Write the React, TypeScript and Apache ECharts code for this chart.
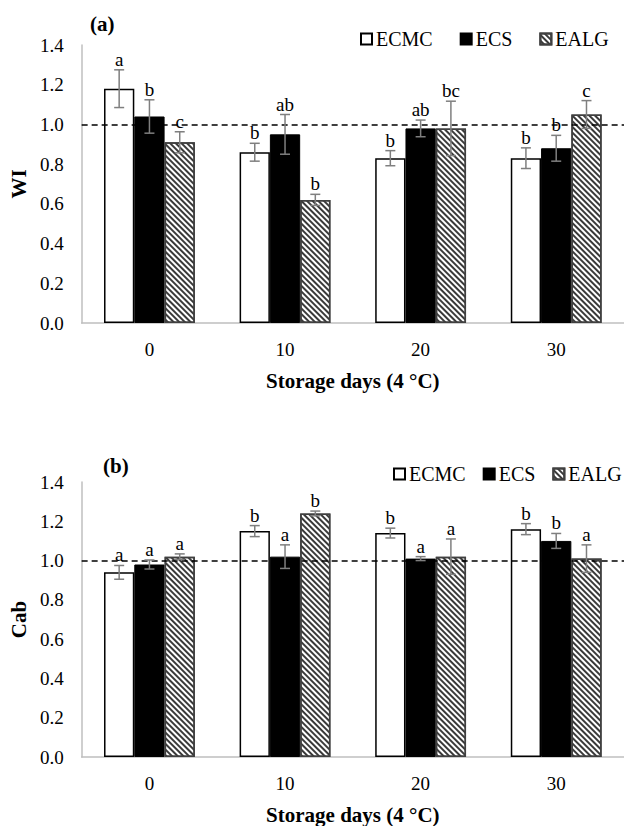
import React, { useEffect, useRef } from "react";
import * as echarts from "echarts";

const categories = ["0", "10", "20", "30"];
const seriesNames = ["ECMC", "ECS", "EALG"];

// (a) WI
const wiECMC = [1.18, 0.86, 0.83, 0.83];
const wiECS = [1.04, 0.95, 0.98, 0.88];
const wiEALG = [0.91, 0.62, 0.98, 1.05];
const wiErrECMC = [0.095, 0.045, 0.038, 0.052];
const wiErrECS = [0.084, 0.1, 0.042, 0.065];
const wiErrEALG = [0.053, 0.028, 0.137, 0.07];
const wiLetECMC = ["a", "b", "b", "b"];
const wiLetECS = ["b", "ab", "ab", "b"];
const wiLetEALG = ["c", "b", "bc", "c"];

// (b) Cab
const cabECMC = [0.94, 1.15, 1.14, 1.16];
const cabECS = [0.98, 1.02, 1.01, 1.1];
const cabEALG = [1.02, 1.24, 1.02, 1.01];
const cabErrECMC = [0.035, 0.028, 0.025, 0.028];
const cabErrECS = [0.023, 0.06, 0.01, 0.038];
const cabErrEALG = [0.014, 0.012, 0.09, 0.07];
const cabLetECMC = ["a", "b", "b", "b"];
const cabLetECS = ["a", "a", "a", "b"];
const cabLetEALG = ["a", "b", "a", "a"];

const yTicks = { min: 0, max: 1.4, interval: 0.2 };
const refLine = 1.0;

const FONT = "Liberation Serif";
const GAP = 0.33;

const hatch = {
  symbol: "rect",
  symbolSize: 1,
  color: "#3a3a3a",
  dashArrayX: [1, 0],
  dashArrayY: [2, 2],
  rotation: Math.PI / 4,
};

function barStyles() {
  return [
    { color: "#ffffff", borderColor: "#000000", borderWidth: 1.5 },
    { color: "#000000", borderColor: "#000000", borderWidth: 1 },
    { color: "#ffffff", borderColor: "#404040", borderWidth: 1.5, decal: hatch },
  ];
}

function buildPanel(
  idx: number,
  values: number[][],
  errs: number[][],
  letters: string[][]
) {
  const styles = barStyles();
  const bars = values.map((vals, s) => ({
    type: "bar",
    name: seriesNames[s],
    xAxisIndex: idx,
    yAxisIndex: idx,
    data: vals,
    barGap: "0%",
    barCategoryGap: "33%",
    itemStyle: styles[s],
    z: 2,
  }));
  const errData: number[][] = [];
  const errLabels: string[] = [];
  values.forEach((vals, s) => {
    vals.forEach((v, c) => {
      errData.push([c, s, v, errs[s][c]]);
      errLabels.push(letters[s][c]);
    });
  });
  const custom = {
    type: "custom",
    xAxisIndex: idx,
    yAxisIndex: idx,
    data: errData,
    encode: { x: 0, y: 2 },
    z: 5,
    silent: true,
    renderItem: (params: any, api: any) => {
      const c = api.value(0);
      const s = api.value(1);
      const v = api.value(2);
      const e = api.value(3);
      const band = api.size([1, 0])[0];
      const bw = (band * (1 - GAP)) / 3;
      const center = api.coord([c, v]);
      const x = center[0] + (s - 1) * bw;
      const top = api.coord([c, v + e])[1];
      const bot = api.coord([c, v - e])[1];
      const cap = 5;
      const ls = { stroke: "#7f7f7f", lineWidth: 1.5 };
      return {
        type: "group",
        children: [
          { type: "line", shape: { x1: x, y1: top, x2: x, y2: bot }, style: ls },
          { type: "line", shape: { x1: x - cap, y1: top, x2: x + cap, y2: top }, style: ls },
          { type: "line", shape: { x1: x - cap, y1: bot, x2: x + cap, y2: bot }, style: ls },
          {
            type: "text",
            style: {
              text: errLabels[params.dataIndex],
              x: x,
              y: top - 1,
              align: "center",
              verticalAlign: "bottom",
              fontSize: 19,
              fontFamily: FONT,
              fill: "#000",
            },
          },
        ],
      };
    },
    markLine: {
      silent: true,
      symbol: "none",
      label: { show: false },
      lineStyle: { color: "#000", width: 1.5, type: [6, 4] },
      data: [{ yAxis: refLine }],
    },
  };
  return [...bars, custom];
}

export default function App() {
  const ref = useRef<HTMLDivElement>(null);
  useEffect(() => {
    if (!ref.current) return;
    const chart = echarts.init(ref.current, null, { renderer: "svg" });
    const grids = [
      { left: 78, top: 45, width: 547, height: 278 },
      { left: 78, top: 482, width: 547, height: 278 },
    ];
    const xAxis = [0, 1].map((i) => ({
      type: "category",
      gridIndex: i,
      data: categories,
      axisTick: { show: false },
      axisLine: { lineStyle: { color: "#bfbfbf", width: 1.5 } },
      axisLabel: { color: "#000", fontSize: 19, fontFamily: FONT, margin: 17 },
      name: "Storage days (4 °C)",
      nameLocation: "middle",
      nameGap: 47,
      nameTextStyle: { color: "#000", fontSize: 21, fontWeight: "bold", fontFamily: FONT },
    }));
    const yAxis = [0, 1].map((i) => ({
      type: "value",
      gridIndex: i,
      min: yTicks.min,
      max: yTicks.max,
      interval: yTicks.interval,
      splitLine: { show: false },
      axisTick: { show: false },
      axisLine: { show: true, lineStyle: { color: "#bfbfbf", width: 1.5 } },
      axisLabel: {
        color: "#000",
        fontSize: 19,
        fontFamily: FONT,
        margin: 18,
        formatter: (v: number) => v.toFixed(1),
      },
      name: i === 0 ? "WI" : "Cab",
      nameLocation: "middle",
      nameGap: 48,
      nameTextStyle: { color: "#000", fontSize: 21, fontWeight: "bold", fontFamily: FONT },
    }));
    const legendBase = {
      data: seriesNames,
      orient: "horizontal",
      itemWidth: 11,
      itemHeight: 11,
      width: 300,
      textStyle: { color: "#000", fontSize: 20, fontFamily: FONT, padding: [0, 0, 0, -1] },
      selectedMode: false,
      icon: "rect",
    };
    chart.setOption({
      animation: false,
      backgroundColor: "#fff",
      grid: grids,
      xAxis,
      yAxis,
      title: [
        { text: "(a)", left: 85, top: 8, textStyle: { fontSize: 21, fontWeight: "bold", fontFamily: FONT, color: "#000" } },
        { text: "(b)", left: 98, top: 450, textStyle: { fontSize: 21, fontWeight: "bold", fontFamily: FONT, color: "#000" } },
      ],
      legend: [
        { ...legendBase, left: 355, top: 24, itemGap: 27 },
        { ...legendBase, left: 388, top: 459, itemGap: 17 },
      ],
      series: [
        ...buildPanel(0, [wiECMC, wiECS, wiEALG], [wiErrECMC, wiErrECS, wiErrEALG], [wiLetECMC, wiLetECS, wiLetEALG]),
        ...buildPanel(1, [cabECMC, cabECS, cabEALG], [cabErrECMC, cabErrECS, cabErrEALG], [cabLetECMC, cabLetECS, cabLetEALG]),
      ],
    });
    return () => chart.dispose();
  }, []);
  return (
    <div
      ref={ref}
      style={{ position: "absolute", left: 0, top: 0, width: 624, height: 826 }}
    />
  );
}
